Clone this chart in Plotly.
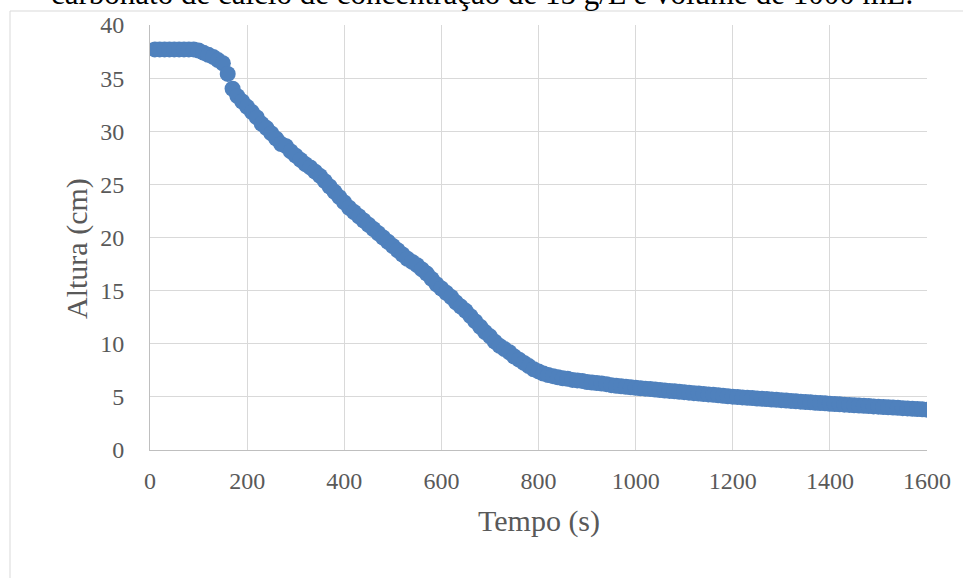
import plotly.graph_objects as go

# Time (s)
tempo = [10, 20, 30, 40, 50, 60, 70, 80, 90,
         100, 110, 120, 130, 140, 150, 160, 170, 180, 190,
         200, 210, 220, 230, 240, 250, 260, 270, 280, 290,
         300, 310, 320, 330, 340, 350, 360, 370, 380, 390,
         400, 410, 420, 430, 440, 450, 460, 470, 480, 490,
         500, 510, 520, 530, 540, 550, 560, 570, 580, 590,
         600, 610, 620, 630, 640, 650, 660, 670, 680, 690,
         700, 710, 720, 730, 740, 750, 760, 770, 780, 790,
         800, 810, 820, 830, 840, 850, 860, 870, 880, 890,
         900, 910, 920, 930, 940, 950, 960, 970, 980, 990,
         1000, 1010, 1020, 1030, 1040, 1050, 1060, 1070, 1080, 1090,
         1100, 1110, 1120, 1130, 1140, 1150, 1160, 1170, 1180, 1190,
         1200, 1210, 1220, 1230, 1240, 1250, 1260, 1270, 1280, 1290,
         1300, 1310, 1320, 1330, 1340, 1350, 1360, 1370, 1380, 1390,
         1400, 1410, 1420, 1430, 1440, 1450, 1460, 1470, 1480, 1490,
         1500, 1510, 1520, 1530, 1540, 1550, 1560, 1570, 1580, 1590,
         1600]

# Height (cm)
altura = [37.7, 37.7, 37.7, 37.7, 37.7, 37.7, 37.7, 37.7, 37.7,
          37.6, 37.4, 37.2, 37.0, 36.7, 36.4, 35.4, 34.0, 33.3, 32.8,
          32.3, 31.8, 31.3, 30.7, 30.3, 29.8, 29.3, 28.8, 28.6, 28.1,
          27.7, 27.3, 26.9, 26.6, 26.2, 25.8, 25.3, 24.8, 24.3, 23.8,
          23.3, 22.8, 22.4, 22.0, 21.6, 21.2, 20.8, 20.4, 20.0, 19.6,
          19.2, 18.8, 18.4, 18.0, 17.7, 17.4, 17.0, 16.6, 16.1, 15.6,
          15.2, 14.8, 14.4, 13.9, 13.5, 13.1, 12.6, 12.1, 11.6, 11.1,
          10.7, 10.2, 9.8, 9.5, 9.2, 8.8, 8.5, 8.2, 7.9, 7.6,
          7.4, 7.2, 7.05, 6.95, 6.85, 6.75, 6.7, 6.6, 6.55, 6.5,
          6.4, 6.35, 6.3, 6.25, 6.2, 6.1, 6.05, 6.0, 5.95, 5.9,
          5.85, 5.81, 5.77, 5.73, 5.69, 5.65, 5.6, 5.56, 5.52, 5.48,
          5.44, 5.4, 5.35, 5.31, 5.27, 5.23, 5.19, 5.15, 5.1, 5.06,
          5.02, 4.99, 4.95, 4.92, 4.89, 4.85, 4.82, 4.79, 4.75, 4.72,
          4.69, 4.65, 4.62, 4.59, 4.55, 4.52, 4.49, 4.45, 4.42, 4.39,
          4.35, 4.32, 4.3, 4.27, 4.24, 4.21, 4.19, 4.16, 4.13, 4.1,
          4.08, 4.05, 4.02, 3.99, 3.97, 3.94, 3.91, 3.88, 3.86, 3.83,
          3.8]

x_ticks = [0, 200, 400, 600, 800, 1000, 1200, 1400, 1600]
y_ticks = [0, 5, 10, 15, 20, 25, 30, 35, 40]

titulo = "carbonato de cálcio de concentração de 15 g/L e volume de 1000 mL."
x_titulo = "Tempo (s)"
y_titulo = "Altura (cm)"

W, H = 963, 578
L, R, T, B = 150, 36, 25, 128
pw, ph = W - L - R, H - T - B


def px_x(px):
    return (px - L) / pw


def px_y(py):
    return (H - B - py) / ph


serif = "Liberation Serif, Times New Roman, serif"
grey_text = "#595959"

fig = go.Figure()
fig.add_trace(go.Scatter(
    x=tempo, y=altura, mode="markers",
    marker=dict(size=16, color="#4F81BD", line=dict(width=0)),
    showlegend=False, hoverinfo="x+y"))

fig.update_layout(
    width=W, height=H,
    margin=dict(l=L, r=R, t=T, b=B, pad=0),
    paper_bgcolor="white", plot_bgcolor="white",
    xaxis=dict(range=[0, 1600], tickvals=x_ticks, ticktext=[str(v) for v in x_ticks],
               showgrid=True, gridcolor="#d9d9d9", gridwidth=1,
               showline=True, linecolor="#bfbfbf", linewidth=1,
               zeroline=False, ticks="", ticklabelstandoff=9,
               tickfont=dict(family=serif, size=24, color=grey_text)),
    yaxis=dict(range=[0, 40], tickvals=y_ticks, ticktext=[str(v) for v in y_ticks],
               showgrid=True, gridcolor="#d9d9d9", gridwidth=1,
               showline=True, linecolor="#bfbfbf", linewidth=1,
               zeroline=False, ticks="", ticklabelstandoff=20,
               tickfont=dict(family=serif, size=24, color=grey_text)),
    shapes=[
        dict(type="line", xref="paper", yref="paper",
             x0=px_x(10), y0=px_y(600), x1=px_x(10), y1=px_y(11),
             line=dict(color="#d9d9d9", width=1)),
        dict(type="line", xref="paper", yref="paper",
             x0=px_x(10), y0=px_y(11), x1=px_x(1000), y1=px_y(11),
             line=dict(color="#d9d9d9", width=1)),
    ],
    annotations=[
        dict(text=titulo, xref="paper", yref="paper", x=px_x(481.5), y=px_y(13),
             xanchor="center", yanchor="bottom", showarrow=False,
             font=dict(family=serif, size=31, color="black")),
        dict(text=x_titulo, xref="paper", yref="paper", x=px_x(539), y=px_y(521),
             xanchor="center", yanchor="middle", showarrow=False,
             font=dict(family=serif, size=30, color=grey_text)),
        dict(text=y_titulo, xref="paper", yref="paper", x=px_x(77), y=px_y(249),
             xanchor="center", yanchor="middle", showarrow=False, textangle=-90,
             font=dict(family=serif, size=30, color=grey_text)),
    ],
)

fig.write_html("out.html")
